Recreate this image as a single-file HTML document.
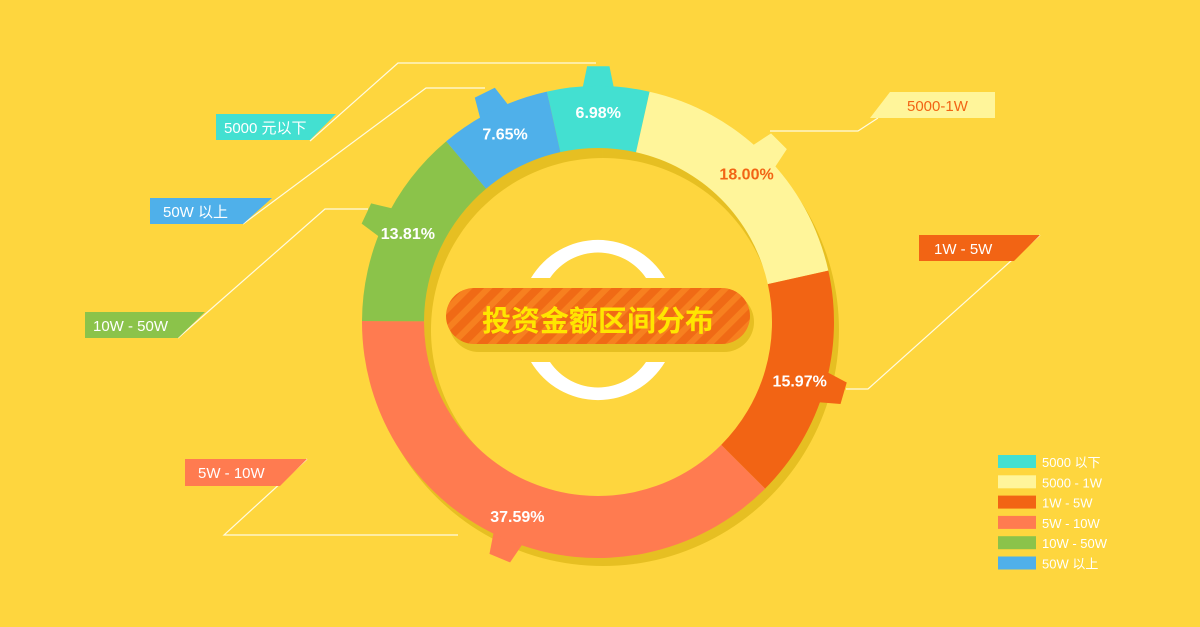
<!DOCTYPE html>
<html><head><meta charset="utf-8"><style>
html,body{margin:0;padding:0;background:#fed63e;}
svg{display:block;font-family:"Liberation Sans","Noto Sans CJK SC",sans-serif;}
</style></head><body>
<svg id="c" width="1200" height="627" viewBox="0 0 1200 627">
<rect width="1200" height="627" fill="#fed63e"/>
<g id="shadow"></g><g id="ring"></g><g id="center"></g><g id="leaders"></g><g id="labels"></g><g id="legend"></g>
</svg>
<script>
const categories=["5000 以下","5000 - 1W","1W - 5W","5W - 10W","10W - 50W","50W 以上"];
const values=[6.98,18.00,15.97,37.59,13.81,7.65];
const colors=["#43e0d1","#fff59a","#f26414","#ff7b50","#8bc34a","#4fb0ea"];
const pctColors=["#fff","#f26414","#fff","#fff","#fff","#fff"];
const NS="http://www.w3.org/2000/svg";
const cx=598,cy=322,R=236,r=174,start=-12.5;
function mk(t,a,p){const e=document.createElementNS(NS,t);for(const k in a)e.setAttribute(k,a[k]);p.appendChild(e);return e;}
function pt(deg,rad,ox=0,oy=0){const a=(deg-90)*Math.PI/180;return [cx+ox+rad*Math.cos(a),cy+oy+rad*Math.sin(a)];}
function arc(a0,a1,R1,r1,ox=0,oy=0){const l=(a1-a0)>180?1:0;const p0=pt(a0,R1,ox,oy),p1=pt(a1,R1,ox,oy),p2=pt(a1,r1,ox,oy),p3=pt(a0,r1,ox,oy);
return `M${p0} A${R1},${R1} 0 ${l} 1 ${p1} L${p2} A${r1},${r1} 0 ${l} 0 ${p3}Z`;}
const sh=document.getElementById('shadow');
let s=mk('path',{d:arc(0,359.99,R,r-2,5,8),fill:"#e6bf22"},sh);


const ring=document.getElementById('ring');
const total=values.reduce((a,b)=>a+b,0);
let a=start;
const lab=document.getElementById('labels');
values.forEach((v,i)=>{
  const span=v/total*360;
  const m=a+span/2;
  const t0=pt(m-4,R-4),t1=pt(m+4,R-4),q0=pt(m-2.5,R+20),q1=pt(m+2.5,R+20);
  const tab=mk('polygon',{points:`${t0} ${q0} ${q1} ${t1}`,fill:colors[i]},ring);
  
  
  const p=mk('path',{d:arc(a,a+span,R,r),fill:colors[i]},ring);
  
  
  const lp=pt(m,210);
  const tx=mk('text',{x:lp[0],y:lp[1]+6,"text-anchor":"middle","font-size":"16","font-weight":"bold",fill:pctColors[i]},lab);
  tx.textContent=v.toFixed(2)+"%";
  
  
  a+=span;
});
</script>
<script>
const C=document.getElementById('center');
C.innerHTML=`
<defs><pattern id="st" width="14" height="14" patternUnits="userSpaceOnUse" patternTransform="rotate(45)"><rect width="14" height="14" fill="#f06a15"/><rect width="6" height="14" fill="#f7801f"/></pattern></defs>
<path d="M531,278 A78,78 0 0 1 665,278 L646,278 A58,58 0 0 0 550,278Z" fill="#fff"/>
<path d="M531,362 A78,78 0 0 0 665,362 L646,362 A58,58 0 0 1 550,362Z" fill="#fff"/>
<rect x="449" y="292" width="305" height="60" rx="30" fill="#e6bf22"/>
<rect x="446" y="288" width="304" height="56" rx="28" fill="url(#st)"/>
<text x="598" y="331" text-anchor="middle" font-size="29" font-weight="bold" fill="#ffe600">投资金额区间分布</text>`;
const L=document.getElementById('leaders');
L.innerHTML=`
<g fill="none" stroke="#fffbe0" stroke-width="1.2">
<polyline points="310,141 398,63 596,63"/>
<polyline points="878,118 858,131 770,131"/>
<polyline points="1040,235 868,389 846,389"/>
<polyline points="307,459 224,535 458,535"/>
<polyline points="178,338 325,209 368,209"/>
<polyline points="243,224 426,88 485,88"/>
</g>
<g font-size="15">
<polygon points="216,114 336,114 310,140 216,140" fill="#43e0d1"/>
<text x="224" y="133" fill="#fff">5000 元以下</text>
<polygon points="890,92 995,92 995,118 870,118" fill="#fff59a"/>
<text x="907" y="111" fill="#f26414">5000-1W</text>
<polygon points="919,235 1040,235 1014,261 919,261" fill="#f26414"/>
<text x="934" y="254" fill="#fff">1W - 5W</text>
<polygon points="185,459 307,459 280,486 185,486" fill="#ff7b50"/>
<text x="198" y="478" fill="#fff">5W - 10W</text>
<polygon points="85,312 205,312 178,338 85,338" fill="#8bc34a"/>
<text x="93" y="331" fill="#fff">10W - 50W</text>
<polygon points="150,198 272,198 243,224 150,224" fill="#4fb0ea"/>
<text x="163" y="217" fill="#fff">50W 以上</text>
</g>`;
const G=document.getElementById('legend');
categories.forEach((c,i)=>{
  const y=455+i*20.3;
  const r=mk('rect',{x:998,y:y,width:38,height:13,fill:colors[i]},G);
  
  
  const t=mk('text',{x:1042,y:y+12,"font-size":"13",fill:"#fff"},G);
  t.textContent=c;
  
  
});
</script>
</body></html>
